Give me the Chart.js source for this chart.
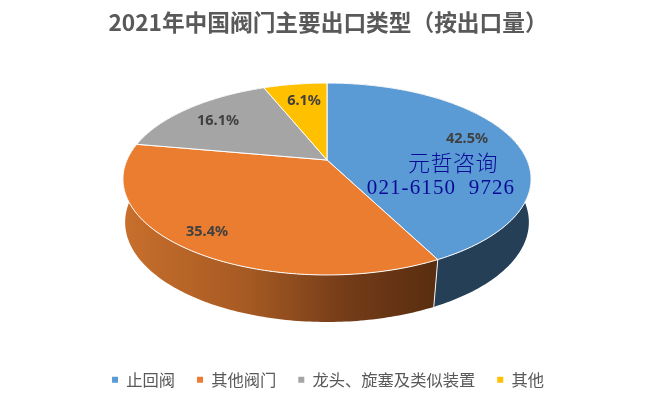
<!DOCTYPE html>
<html>
<head>
<meta charset="utf-8">
<style>
  html, body { margin: 0; padding: 0; background: #fff; }
  #wrap { width: 656px; height: 401px; }
</style>
<script src="https://cdn.jsdelivr.net/npm/chart.js@4"></script>
</head>
<body>
<div id="wrap"><canvas id="c"></canvas></div>
<script>
const categories = ["止回阀", "其他阀门", "龙头、旋塞及类似装置", "其他"];
const shares = [42.5, 35.4, 16.1, 6.1];
const colors = ["#5B9BD5", "#EB7D30", "#A5A5A5", "#FFC000"];

const FONT = '"Noto Sans CJK SC", "Noto Sans", sans-serif';

// perspective of the tilted disc, one ring for the top face and one for the bottom
const topRing = { cx: 327, apex: 160, rx: 200, ry: 92.2, k: 0.198 };
const bottomRing = { cx: 327, apex: 205.4, rx: 199, ry: 97, k: 0.168 };
// label anchors, same order as the slices
const labelSpots = [[467, 139], [207, 232], [218, 121], [304, 101]];

function project(ring, a) {
  const x = Math.cos(a), d = Math.sin(a);
  const w = 1 - ring.k * d;
  return [ring.cx + ring.rx * x / w, ring.apex + ring.ry * d / w];
}

function wallFill(ctx, i) {
  if (i === 0) return "#243F56";
  if (i === 1) {
    const g = ctx.createLinearGradient(123, 0, 433, 0);
    g.addColorStop(0, "#C86F2C");
    g.addColorStop(0.4, "#A65A23");
    g.addColorStop(0.72, "#743C18");
    g.addColorStop(1, "#5A2E10");
    return g;
  }
  return i === 2 ? "#5F5F5F" : "#8F6C00";
}

const disc3d = {
  id: "disc3d",
  beforeDatasetsDraw(chart) {
    const ctx = chart.ctx;
    const arcs = chart.getDatasetMeta(0).data;
    ctx.save();

    // side wall
    [3, 2, 0, 1].forEach(i => {
      const { startAngle, endAngle } = arcs[i];
      const steps = Math.ceil((endAngle - startAngle) * 60);
      ctx.beginPath();
      for (let s = 0; s <= steps; s++) {
        const p = project(topRing, startAngle + (endAngle - startAngle) * s / steps);
        s === 0 ? ctx.moveTo(p[0], p[1]) : ctx.lineTo(p[0], p[1]);
      }
      for (let s = steps; s >= 0; s--) {
        const p = project(bottomRing, startAngle + (endAngle - startAngle) * s / steps);
        ctx.lineTo(p[0], p[1]);
      }
      ctx.closePath();
      ctx.fillStyle = wallFill(ctx, i);
      ctx.fill();
    });

    // seam on the wall between blue and orange
    const seamA = project(topRing, arcs[1].startAngle);
    const seamB = project(bottomRing, arcs[1].startAngle);
    ctx.strokeStyle = "#F2F2F2";
    ctx.lineWidth = 1;
    ctx.beginPath();
    ctx.moveTo(seamA[0], seamA[1]);
    ctx.lineTo(seamB[0], seamB[1]);
    ctx.stroke();

    // top face
    arcs.forEach((arc, i) => {
      const steps = Math.ceil((arc.endAngle - arc.startAngle) * 60);
      ctx.beginPath();
      ctx.moveTo(topRing.cx, topRing.apex);
      for (let s = 0; s <= steps; s++) {
        const p = project(topRing, arc.startAngle + (arc.endAngle - arc.startAngle) * s / steps);
        ctx.lineTo(p[0], p[1]);
      }
      ctx.closePath();
      ctx.fillStyle = colors[i];
      ctx.fill();
      ctx.strokeStyle = "#FFFFFF";
      ctx.lineWidth = 1;
      ctx.lineJoin = "round";
      ctx.stroke();
    });
    ctx.restore();
    return false;
  },
  afterDraw(chart) {
    const ctx = chart.ctx;
    ctx.save();
    ctx.textBaseline = "middle";
    ctx.textAlign = "center";
    ctx.fillStyle = "#404040";
    ctx.font = 'bold 14.5px "Noto Sans", sans-serif';
    shares.forEach((v, i) => {
      ctx.fillText(v.toFixed(1) + "%", labelSpots[i][0], labelSpots[i][1]);
    });
    // company stamp over the chart
    ctx.fillStyle = "#0A0A96";
    ctx.font = "300 22px " + FONT;
    ctx.letterSpacing = "0.5px";
    ctx.fillText("元哲咨询", 453, 163);
    ctx.font = '21px "Liberation Serif", serif';
    ctx.letterSpacing = "1.1px";
    ctx.fillText("021-6150\u00A0\u00A09726", 441, 188);
    ctx.restore();
  }
};

new Chart(document.getElementById("c"), {
  type: "pie",
  data: {
    labels: categories,
    datasets: [{ data: shares, backgroundColor: colors, borderWidth: 0 }]
  },
  options: {
    responsive: true,
    maintainAspectRatio: false,
    animation: false,
    layout: { padding: { bottom: 3 } },
    plugins: {
      title: {
        display: true,
        text: "2021年中国阀门主要出口类型（按出口量）",
        color: "#595959",
        font: { family: FONT, size: 22.7, weight: "bold" },
        padding: { top: 9, bottom: 10 }
      },
      legend: {
        position: "bottom",
        labels: {
          color: "#595959",
          font: { family: FONT, size: 16.3 },
          boxWidth: 6,
          boxHeight: 6,
          padding: 22
        }
      },
      tooltip: { enabled: false }
    }
  },
  plugins: [disc3d]
});
</script>
</body>
</html>
